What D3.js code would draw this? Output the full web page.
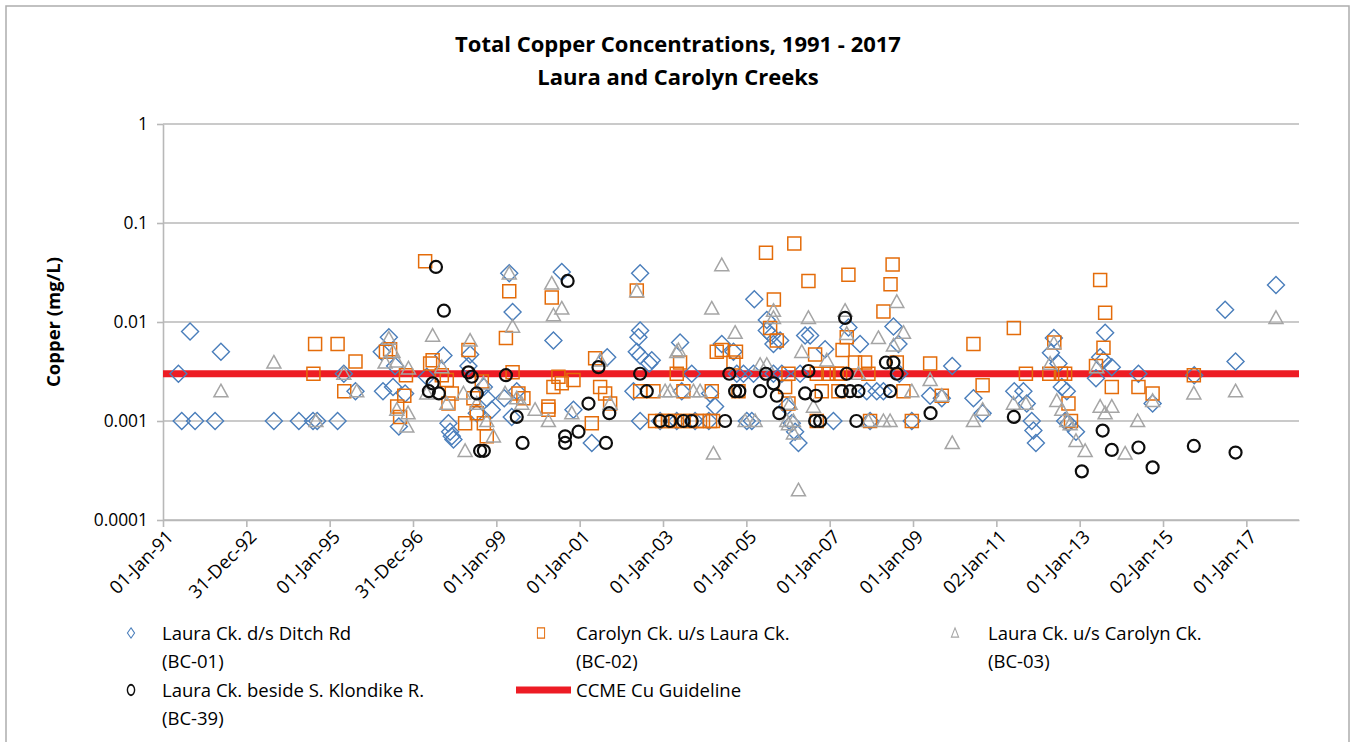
<!DOCTYPE html>
<html>
<head>
<meta charset="utf-8">
<script src="https://cdn.jsdelivr.net/npm/d3@7/dist/d3.min.js"></script>
<style>
  body { margin: 0; background: #fff; }
  text { font-family: "Open Sans", "Liberation Sans", sans-serif; fill: #000; }
</style>
</head>
<body>
<div id="chart"></div>
<script>
'use strict';

// Chart text
var titleLines = ['Total Copper Concentrations, 1991 - 2017', 'Laura and Carolyn Creeks'];
var yLabel = 'Copper (mg/L)';

// Axis ticks
var yTicks = [0.0001, 0.001, 0.01, 0.1, 1];
var yTickLabels = ['0.0001', '0.001', '0.01', '0.1', '1'];
var xTickLabels = ['01-Jan-91', '31-Dec-92', '01-Jan-95', '31-Dec-96', '01-Jan-99', '01-Jan-01', '01-Jan-03',
  '01-Jan-05', '01-Jan-07', '01-Jan-09', '02-Jan-11', '01-Jan-13', '02-Jan-15', '01-Jan-17'];
var xStartDate = '1991-01-01';
var xTickStepDays = 730.5;
var xSpanDays = 9958;

// CCME guideline (mg/L)
var guideline = 0.003;

// BC-01 Laura Ck. d/s Ditch Rd (decimal year, mg/L)
var bc01Years = [1991.37, 1991.65, 1991.45, 1991.77, 1992.25, 1992.39, 1993.66, 1994.26, 1994.60, 1994.70,
  1995.19, 1995.34, 1995.62, 1996.25, 1996.42, 1996.57, 1996.28, 1996.52, 1996.81, 1996.66,
  1997.73, 1997.33, 1997.85, 1997.89, 1997.93, 1997.97, 1998.37, 1998.33, 1998.70, 1998.77,
  1998.53, 1998.89, 1999.31, 1999.39, 1999.19, 1999.49, 1999.37, 2000.57, 2000.37, 2001.66,
  2000.85, 2001.29, 2002.45, 2002.45, 2002.41, 2002.37, 2002.45, 2002.73, 2002.67, 2002.29,
  2002.45, 2003.41, 2003.69, 2003.45, 2004.13, 2004.41, 2004.25, 2004.69, 2004.77, 2004.93,
  2005.17, 2005.01, 2005.13, 2005.19, 2005.49, 2005.61, 2005.65, 2005.49, 2005.81, 2005.65,
  2005.85, 2006.29, 2005.97, 2006.09, 2006.17, 2006.25, 2006.41, 2006.53, 2006.89, 2007.09,
  2007.45, 2007.73, 2008.53, 2008.65, 2008.67, 2007.89, 2008.13, 2008.29, 2007.97, 2008.97,
  2009.41, 2009.69, 2009.94, 2010.45, 2010.67, 2011.43, 2011.65, 2011.73, 2011.85, 2011.89,
  2011.95, 2012.38, 2012.31, 2012.49, 2012.57, 2012.69, 2012.65, 2012.73, 2012.91, 2013.61,
  2013.49, 2013.57, 2013.77, 2013.39, 2014.41, 2014.75, 2015.75, 2016.49, 2016.74, 2017.71,
  2002.93, 2003.33, 2003.77, 2004.10];
var bc01Values = [0.003, 0.008, 0.001, 0.001, 0.001, 0.005, 0.001, 0.001, 0.001, 0.001,
  0.001, 0.003, 0.002, 0.005, 0.007, 0.0036, 0.002, 0.0022, 0.0019, 0.00088,
  0.0046, 0.0028, 0.00095, 0.00078, 0.0007, 0.00065, 0.0047, 0.0036, 0.0022, 0.0017,
  0.0012, 0.0013, 0.031, 0.0126, 0.0017, 0.002, 0.0011, 0.032, 0.0065, 0.0044,
  0.0013, 0.0006, 0.031, 0.0082, 0.007, 0.005, 0.0046, 0.0041, 0.0038, 0.002,
  0.001, 0.0062, 0.003, 0.002, 0.0019, 0.006, 0.0014, 0.005, 0.003, 0.003,
  0.003, 0.001, 0.001, 0.017, 0.0105, 0.0073, 0.006, 0.0082, 0.0065, 0.003,
  0.003, 0.003, 0.0014, 0.00095, 0.00078, 0.0006, 0.0073, 0.0073, 0.0053, 0.001,
  0.0088, 0.006, 0.009, 0.006, 0.003, 0.002, 0.002, 0.002, 0.001, 0.001,
  0.0018, 0.0017, 0.0036, 0.0017, 0.0012, 0.002, 0.002, 0.0015, 0.001, 0.0008,
  0.0006, 0.0069, 0.0049, 0.0038, 0.0022, 0.002, 0.001, 0.00095, 0.00078, 0.0078,
  0.0044, 0.0041, 0.0035, 0.0027, 0.003, 0.0015, 0.0029, 0.0133, 0.004, 0.0236,
  0.001, 0.001, 0.001, 0.001];

// BC-02 Carolyn Ck. u/s Laura Ck.
var bc02Years = [1997.29, 1994.65, 1995.19, 1995.62, 1994.61, 1995.35, 1996.35, 1996.45, 1996.83, 1996.79,
  1996.62, 1996.69, 1997.47, 1997.41, 1997.69, 1997.81, 1997.93, 1997.85, 1998.33, 1998.45,
  1998.65, 1998.53, 1998.25, 1998.70, 1998.77, 1999.31, 1999.23, 1999.39, 1999.53, 1999.65,
  2000.33, 2001.37, 2000.49, 2000.57, 2000.85, 2000.37, 2000.25, 2000.25, 2001.49, 2001.61,
  2001.73, 2001.29, 2002.37, 2002.45, 2002.77, 2003.33, 2003.41, 2003.49, 2002.81, 2002.98,
  2003.12, 2003.29, 2003.48, 2003.65, 2003.81, 2003.96, 2004.13, 2004.20, 2004.29, 2004.17,
  2004.41, 2004.75, 2004.69, 2004.81, 2005.47, 2006.15, 2006.49, 2005.66, 2005.57, 2005.73,
  2006.01, 2005.93, 2006.01, 2006.65, 2006.69, 2006.81, 2006.97, 2006.69, 2007.21, 2007.25,
  2007.31, 2007.45, 2008.51, 2008.46, 2008.29, 2007.41, 2007.61, 2007.85, 2008.61, 2007.17,
  2007.93, 2008.77, 2007.97, 2008.97, 2009.41, 2009.69, 2010.45, 2010.67, 2011.42, 2011.71,
  2012.27, 2012.55, 2012.65, 2012.39, 2012.73, 2012.79, 2013.49, 2013.61, 2013.57, 2013.39,
  2013.77, 2014.41, 2014.75, 2015.74];
var bc02Values = [0.041, 0.006, 0.006, 0.004, 0.003, 0.002, 0.005, 0.0053, 0.0029, 0.0018,
  0.0014, 0.0011, 0.0041, 0.0038, 0.0029, 0.0026, 0.0019, 0.0015, 0.0052, 0.0017,
  0.0025, 0.0012, 0.00095, 0.00095, 0.0007, 0.0205, 0.0069, 0.0031, 0.0019, 0.0017,
  0.0177, 0.0043, 0.0028, 0.0024, 0.0026, 0.0022, 0.0014, 0.0013, 0.0022, 0.0019,
  0.0015, 0.00095, 0.0208, 0.002, 0.002, 0.003, 0.0039, 0.002, 0.001, 0.001,
  0.001, 0.001, 0.001, 0.001, 0.001, 0.001, 0.001, 0.001, 0.005, 0.002,
  0.0052, 0.005, 0.0039, 0.002, 0.05, 0.062, 0.026, 0.0169, 0.0087, 0.0065,
  0.003, 0.0022, 0.0015, 0.0047, 0.003, 0.002, 0.003, 0.001, 0.002, 0.003,
  0.0052, 0.03, 0.038, 0.024, 0.0128, 0.007, 0.0039, 0.0039, 0.0039, 0.003,
  0.003, 0.002, 0.001, 0.001, 0.0038, 0.0018, 0.006, 0.0023, 0.0087, 0.003,
  0.003, 0.003, 0.003, 0.0062, 0.0015, 0.001, 0.0266, 0.0124, 0.0055, 0.0036,
  0.0022, 0.0022, 0.0019, 0.0029];

// BC-03 Laura Ck. u/s Carolyn Ck.
var bc03Years = [1992.39, 1993.66, 1995.34, 1995.65, 1994.67, 1996.42, 1996.52, 1996.61, 1996.33, 1996.89,
  1996.61, 1996.88, 1996.85, 1997.47, 1997.33, 1997.69, 1997.81, 1998.37, 1998.21, 1998.53,
  1998.69, 1998.77, 1998.93, 1998.25, 1999.31, 1999.39, 1999.21, 1999.49, 1999.61, 2000.33,
  2000.57, 2000.37, 1999.93, 2000.25, 2000.81, 2001.49, 2001.73, 2002.37, 2003.33, 2004.17,
  2004.21, 2004.41, 2004.73, 2003.37, 2003.17, 2003.05, 2003.73, 2003.89, 2005.65, 2005.65,
  2005.33, 2005.49, 2006.05, 2006.01, 2006.13, 2006.25, 2006.49, 2006.33, 2006.61, 2006.93,
  2007.37, 2007.41, 2008.17, 2008.61, 2008.77, 2008.53, 2007.69, 2008.97, 2009.41, 2009.69,
  2009.94, 2010.45, 2010.67, 2011.41, 2011.71, 2008.29, 2008.45, 2007.93, 2012.38, 2012.29,
  2012.45, 2012.57, 2012.69, 2012.77, 2012.91, 2013.13, 2013.41, 2013.49, 2013.77, 2013.61,
  2014.09, 2014.39, 2014.75, 2015.74, 2016.74, 2017.71, 2005.97, 2006.13, 2004.97, 2005.21];
var bc03Values = [0.002, 0.0039, 0.003, 0.002, 0.001, 0.0068, 0.005, 0.004, 0.0039, 0.0034,
  0.0013, 0.0012, 0.00088, 0.0073, 0.0019, 0.0035, 0.0015, 0.0065, 0.0019, 0.0015,
  0.0024, 0.001, 0.0007, 0.0005, 0.031, 0.009, 0.0019, 0.0017, 0.0015, 0.0245,
  0.0137, 0.0117, 0.0013, 0.001, 0.0012, 0.0041, 0.0015, 0.0205, 0.005, 0.0137,
  0.00047, 0.0376, 0.0078, 0.0052, 0.002, 0.002, 0.002, 0.002, 0.013, 0.011,
  0.0037, 0.0037, 0.0015, 0.00093, 0.00075, 0.0002, 0.011, 0.005, 0.0014, 0.0041,
  0.013, 0.0076, 0.0069, 0.016, 0.0078, 0.0058, 0.003, 0.002, 0.0026, 0.0018,
  0.0006, 0.001, 0.0013, 0.0015, 0.0015, 0.001, 0.001, 0.001, 0.0061, 0.0038,
  0.0016, 0.0013, 0.001, 0.00093, 0.00063, 0.0005, 0.0035, 0.0014, 0.0014, 0.0012,
  0.00047, 0.001, 0.0016, 0.0019, 0.002, 0.011, 0.001, 0.001, 0.001, 0.001];

// BC-39 Laura Ck. beside S. Klondike R.
var bc39Years = [1997.55, 1997.74, 1997.47, 1997.38, 1997.62, 1998.33, 1998.41, 1998.53, 1998.61, 1998.70,
  1999.23, 1999.49, 1999.63, 2000.71, 2001.45, 2001.21, 2001.71, 2000.97, 2000.65, 2000.65,
  2001.63, 2002.45, 2002.61, 2002.93, 2003.17, 2003.49, 2003.69, 2004.49, 2004.59, 2004.73,
  2004.83, 2005.33, 2005.47, 2005.65, 2005.73, 2005.79, 2006.41, 2006.49, 2006.67, 2006.65,
  2006.77, 2007.37, 2007.41, 2007.29, 2007.49, 2007.69, 2007.64, 2008.35, 2008.53, 2008.61,
  2008.45, 2009.42, 2011.42, 2013.55, 2013.77, 2013.05, 2014.41, 2014.75, 2015.74, 2016.74];
var bc39Values = [0.036, 0.013, 0.0024, 0.002, 0.0019, 0.0031, 0.0028, 0.0019, 0.0005, 0.0005,
  0.0029, 0.0011, 0.0006, 0.026, 0.0035, 0.0015, 0.0012, 0.00078, 0.0007, 0.0006,
  0.0006, 0.003, 0.002, 0.001, 0.001, 0.001, 0.001, 0.001, 0.003, 0.002,
  0.002, 0.002, 0.003, 0.0024, 0.0018, 0.0012, 0.0019, 0.0032, 0.0018, 0.001,
  0.001, 0.011, 0.003, 0.002, 0.002, 0.002, 0.001, 0.0039, 0.0039, 0.003,
  0.002, 0.0012, 0.0011, 0.0008, 0.00051, 0.00031, 0.00054, 0.00034, 0.00056, 0.00048];

var seriesNames = [
  ['Laura Ck. d/s Ditch Rd', '(BC-01)'],
  ['Carolyn Ck. u/s Laura Ck.', '(BC-02)'],
  ['Laura Ck. u/s Carolyn Ck.', '(BC-03)'],
  ['Laura Ck. beside S. Klondike R.', '(BC-39)']
];
var guidelineName = 'CCME Cu Guideline';

// ---- layout ----
var width = 1351, height = 742;
var plot = {left: 163, right: 1299, top: 124, bottom: 520};
var gridColor = '#B8B8B8';
var labelSize = '18.5px';

function yearToDate(v) {
  var yr = Math.floor(v);
  var a = Date.UTC(yr, 0, 1), b = Date.UTC(yr + 1, 0, 1);
  return new Date(a + (v - yr) * (b - a));
}
function zipSeries(years, values) {
  return years.map(function(yv, i) { return {date: yearToDate(yv), value: values[i]}; });
}

var dayMs = 864e5;
var x0 = new Date(xStartDate + 'T00:00:00Z').getTime();
var x = d3.scaleUtc()
  .domain([new Date(x0), new Date(x0 + xSpanDays * dayMs)])
  .range([plot.left, plot.right]);
var y = d3.scaleLog().domain([0.0001, 1]).range([plot.bottom, plot.top]);
var xTickDates = xTickLabels.map(function(d, i) { return new Date(x0 + i * xTickStepDays * dayMs); });

var svg = d3.select('#chart').append('svg')
  .attr('width', width)
  .attr('height', height);

// outer chart border
svg.append('rect')
  .attr('x', 6).attr('y', 6)
  .attr('width', 1343).attr('height', 780)
  .attr('fill', 'none')
  .attr('stroke', '#ADADAD')
  .attr('stroke-width', 1.5);

// title
svg.append('g').selectAll('text')
  .data(titleLines)
  .enter().append('text')
  .attr('x', 678)
  .attr('y', function(d, i) { return 52 + i * 33; })
  .attr('text-anchor', 'middle')
  .style('font-size', '22px')
  .style('font-weight', 'bold')
  .text(function(d) { return d; });

// gridlines
svg.append('g').selectAll('line')
  .data(yTicks)
  .enter().append('line')
  .attr('x1', plot.left).attr('x2', plot.right)
  .attr('y1', function(d) { return y(d); })
  .attr('y2', function(d) { return y(d); })
  .attr('stroke', gridColor)
  .attr('stroke-width', 1.6);

// axes
var yAxis = d3.axisLeft(y)
  .tickValues(yTicks)
  .tickSize(6)
  .tickSizeOuter(0)
  .tickFormat(function(d, i) { return yTickLabels[i]; });
var gy = svg.append('g')
  .attr('transform', 'translate(' + plot.left + ',0)')
  .call(yAxis);
gy.selectAll('path, line').attr('stroke', gridColor).attr('stroke-width', 1.6);
gy.selectAll('text')
  .attr('x', -15)
  .style('font-size', '17.4px')
  .style('font-family', null);

var xAxis = d3.axisBottom(x)
  .tickValues(xTickDates)
  .tickSize(7)
  .tickSizeOuter(0)
  .tickFormat(function(d, i) { return xTickLabels[i]; });
var gx = svg.append('g')
  .attr('transform', 'translate(0,' + plot.bottom + ')')
  .call(xAxis);
gx.selectAll('path, line').attr('stroke', gridColor).attr('stroke-width', 1.6);
gx.selectAll('text')
  .attr('x', 0).attr('y', 0).attr('dy', 0)
  .attr('text-anchor', 'end')
  .attr('transform', 'translate(11,18) rotate(-45)')
  .style('font-size', labelSize)
  .style('font-family', null);

svg.append('text')
  .attr('transform', 'translate(60,' + ((plot.top + plot.bottom) / 2) + ') rotate(-90)')
  .attr('text-anchor', 'middle')
  .style('font-size', labelSize)
  .style('font-weight', 'bold')
  .text(yLabel);

// guideline (drawn under the markers)
svg.append('line')
  .attr('x1', plot.left).attr('x2', plot.right)
  .attr('y1', y(guideline)).attr('y2', y(guideline))
  .attr('stroke', '#ED1C24')
  .attr('stroke-width', 7);

// marker shapes
var shapes = {
  diamond: function(r) { return 'M0,' + (-r) + 'L' + r + ',0L0,' + r + 'L' + (-r) + ',0Z'; },
  square: function(r) { return 'M' + (-r) + ',' + (-r) + 'H' + r + 'V' + r + 'H' + (-r) + 'Z'; },
  triangle: function(r) { return 'M0,' + (-r) + 'L' + r + ',' + (r * 0.8) + 'L' + (-r) + ',' + (r * 0.8) + 'Z'; },
  circle: function(r) { return 'M' + r + ',0A' + r + ',' + r + ' 0 1,1 ' + (-r) + ',0A' + r + ',' + r + ' 0 1,1 ' + r + ',0Z'; }
};

var series = [
  {data: zipSeries(bc01Years, bc01Values), shape: 'diamond', size: 8.5, color: '#4A7EBB', sw: 1.4},
  {data: zipSeries(bc02Years, bc02Values), shape: 'square', size: 6.5, color: '#E46C0A', sw: 1.5},
  {data: zipSeries(bc03Years, bc03Values), shape: 'triangle', size: 7, color: '#A5A5A5', sw: 1.5},
  {data: zipSeries(bc39Years, bc39Values), shape: 'circle', size: 6, color: '#0D0D0D', sw: 2.2}
];

series.forEach(function(s) {
  svg.append('g').selectAll('path')
    .data(s.data)
    .enter().append('path')
    .attr('d', shapes[s.shape](s.size))
    .attr('transform', function(d) { return 'translate(' + x(d.date) + ',' + y(d.value) + ')'; })
    .attr('fill', 'none')
    .attr('stroke', s.color)
    .attr('stroke-width', s.sw);
});

// legend
var legendPos = [[131, 633, 162], [541, 633, 576], [955, 633, 988], [131, 690, 162]];
series.forEach(function(s, i) {
  var p = legendPos[i];
  var g = svg.append('g').attr('transform', 'translate(' + p[0] + ',' + p[1] + ')');
  g.append('path')
    .attr('d', shapes[s.shape](4.5))
    .attr('transform', 'scale(0.8,1.15)')
    .attr('fill', 'none')
    .attr('stroke', s.color)
    .attr('stroke-width', s.sw * 0.8);
  g.selectAll('text')
    .data(seriesNames[i])
    .enter().append('text')
    .attr('x', p[2] - p[0])
    .attr('y', function(d, j) { return 7 + j * 28; })
    .style('font-size', labelSize)
    .text(function(d) { return d; });
});
var gl = svg.append('g').attr('transform', 'translate(516,690)');
gl.append('line')
  .attr('x1', 0).attr('x2', 55)
  .attr('stroke', '#ED1C24')
  .attr('stroke-width', 7);
gl.append('text')
  .attr('x', 60)
  .attr('y', 7)
  .style('font-size', labelSize)
  .text(guidelineName);
</script>
</body>
</html>
